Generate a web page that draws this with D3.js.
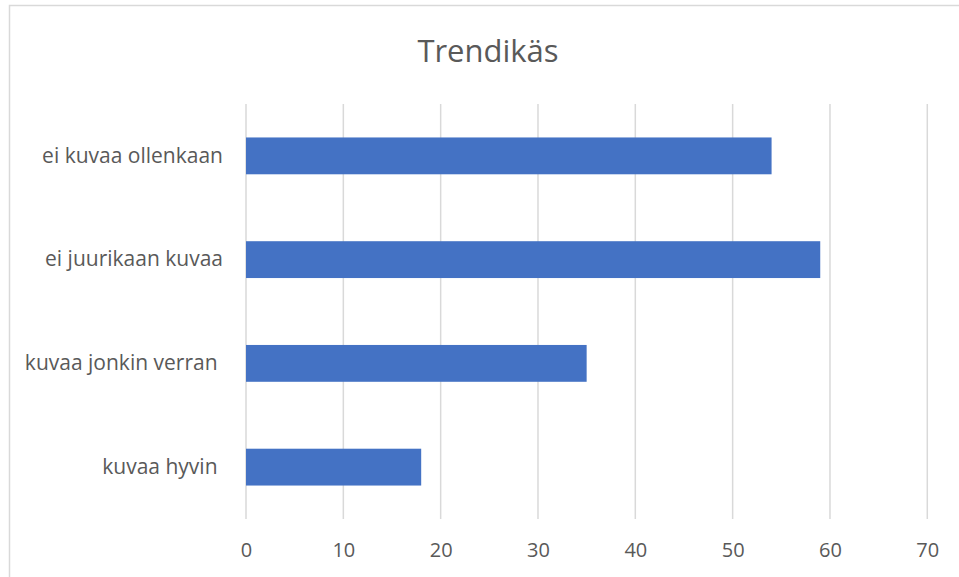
<!DOCTYPE html>
<html>
<head>
<meta charset="utf-8">
<script src="https://cdn.jsdelivr.net/npm/d3@7"></script>
<style>
  body { margin: 0; background: #fff; }
  text { font-family: "Open Sans", sans-serif; fill: #595959; white-space: pre; }
</style>
</head>
<body>
<svg id="chart" width="959" height="577"></svg>
<script>
// category labels as typed in the source sheet (two carry a trailing space)
var categories = ['ei kuvaa ollenkaan', 'ei juurikaan kuvaa', 'kuvaa jonkin verran ', 'kuvaa hyvin '];
var values = [54, 59, 35, 18];
var xTicks = [0, 10, 20, 30, 40, 50, 60, 70];
var title = 'Trendikäs';

var margin = { top: 104, right: 32, bottom: 58, left: 246 };
var width = 959, height = 577;

var svg = d3.select('#chart');

// chart frame
svg.append('rect')
  .attr('x', 9.5).attr('y', 5.5)
  .attr('width', 960).attr('height', 580)
  .attr('fill', 'none')
  .attr('stroke', '#d9d9d9')
  .attr('stroke-width', 1.5);

var x = d3.scaleLinear()
  .domain([0, 70])
  .range([margin.left, 927.3]);

var y = d3.scaleBand()
  .domain(categories)
  .range([margin.top, height - margin.bottom])
  .paddingInner(0.645)
  .paddingOuter(0.3225);

// gridlines
svg.append('g')
  .selectAll('line')
  .data(xTicks)
  .enter()
  .append('line')
  .attr('x1', function (d) { return x(d); })
  .attr('x2', function (d) { return x(d); })
  .attr('y1', margin.top)
  .attr('y2', height - margin.bottom)
  .attr('stroke', '#d9d9d9')
  .attr('stroke-width', 1.5);

// bars
svg.append('g')
  .selectAll('rect')
  .data(values)
  .enter()
  .append('rect')
  .attr('x', x(0))
  .attr('y', function (d, i) { return y(categories[i]); })
  .attr('width', function (d) { return x(d) - x(0); })
  .attr('height', y.bandwidth())
  .attr('fill', '#4472c4');

// x axis labels
var xAxis = d3.axisBottom(x).tickValues(xTicks).tickSize(0).tickPadding(24);
var gx = svg.append('g')
  .attr('transform', 'translate(0,' + (height - margin.bottom) + ')')
  .call(xAxis);
gx.select('.domain').remove();
gx.selectAll('text')
  .style('font-family', '"Open Sans", sans-serif')
  .style('font-size', '20px')
  .style('fill', '#595959');

// y axis labels
var yAxis = d3.axisLeft(y).tickSize(0).tickPadding(23);
var gy = svg.append('g')
  .attr('transform', 'translate(' + margin.left + ',0)')
  .call(yAxis);
gy.select('.domain').remove();
gy.selectAll('text')
  .style('font-family', '"Open Sans", sans-serif')
  .style('font-size', '21px')
  .style('fill', '#595959')
  .style('white-space', 'pre');

// title
svg.append('text')
  .attr('x', 488)
  .attr('y', 62)
  .attr('text-anchor', 'middle')
  .style('font-size', '31px')
  .text(title);
</script>
</body>
</html>
